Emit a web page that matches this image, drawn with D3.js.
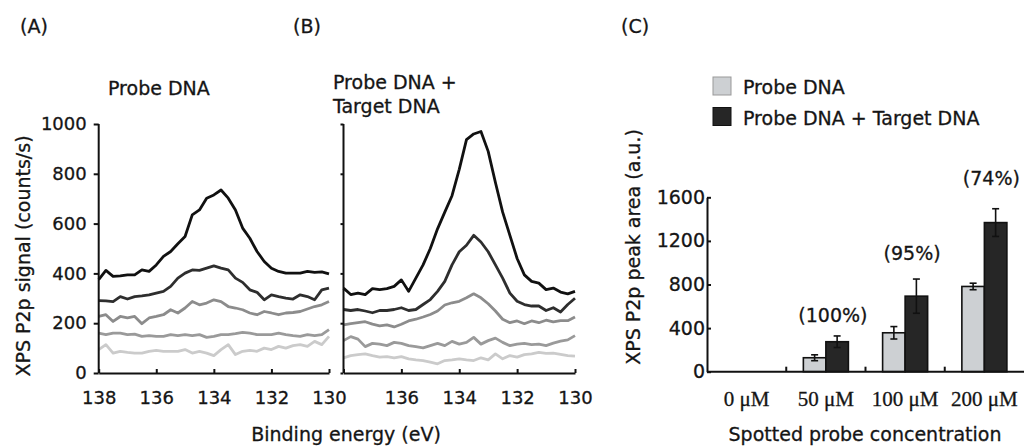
<!DOCTYPE html>
<html>
<head>
<meta charset="utf-8">
<script src="https://cdn.jsdelivr.net/npm/d3@7"></script>
<style>
  body { margin: 0; background: #fff; }
  svg { display: block; font-family: "DejaVu Sans", Verdana, sans-serif; }
  svg text { fill: #151515; stroke: #151515; stroke-width: 0.3px; }
  .axis path, .axis line { stroke: #111; }
</style>
</head>
<body>
<div id="chart"></div>
<script>
// Binding energies (eV), read every 0.25 eV
const energy = [138, 137.75, 137.5, 137.25, 137, 136.75, 136.5, 136.25, 136, 135.75, 135.5,
  135.25, 135, 134.75, 134.5, 134.25, 134, 133.75, 133.5, 133.25, 133, 132.75, 132.5,
  132.25, 132, 131.75, 131.5, 131.25, 131, 130.75, 130.5, 130.25, 130];

// Panel A : probe DNA only (top curve first)
const probeA1 = [375, 412, 388, 390, 394, 394, 414, 408, 434, 468, 488, 519, 548, 635, 655, 702, 715,
  735, 702, 655, 582, 541, 488, 448, 421, 408, 401, 401, 401, 408, 404, 406, 398];
const probeA2 = [291, 290, 287, 307, 297, 307, 310, 314, 321, 328, 348, 381, 401, 414, 412, 421, 430,
  421, 414, 381, 364, 334, 324, 294, 314, 307, 301, 297, 314, 307, 294, 334, 341];
const probeA3 = [227, 234, 207, 227, 221, 227, 198, 221, 227, 234, 254, 241, 261, 287, 274, 281, 294,
  287, 267, 261, 254, 241, 234, 247, 241, 234, 241, 243, 247, 257, 267, 274, 287];
const probeA4 = [160, 154, 160, 160, 154, 156, 147, 150, 147, 147, 154, 150, 154, 150, 154, 143, 147,
  154, 154, 158, 163, 160, 154, 154, 154, 160, 154, 150, 147, 154, 150, 154, 174];
const probeA5 = [94, 114, 80, 87, 83, 80, 80, 87, 91, 87, 87, 87, 94, 80, 87, 80, 70,
  94, 114, 74, 87, 91, 87, 100, 94, 107, 100, 110, 114, 107, 127, 114, 147];

// Panel B : probe DNA + target DNA
const hybridB1 = [341, 315, 321, 315, 339, 335, 339, 348, 374, 328, 381, 434, 500, 579, 646, 712, 818,
  937, 960, 970, 890, 765, 646, 553, 460, 394, 368, 361, 335, 341, 325, 318, 328];
const hybridB2 = [255, 251, 255, 249, 242, 251, 251, 255, 262, 251, 255, 275, 295, 328, 368, 434, 487,
  513, 553, 526, 487, 434, 381, 321, 288, 275, 269, 269, 251, 262, 245, 275, 300];
const hybridB3 = [193, 198, 202, 206, 196, 189, 193, 185, 196, 209, 216, 225, 235, 249, 273, 282, 288,
  302, 318, 302, 278, 249, 216, 202, 209, 198, 209, 202, 212, 205, 210, 210, 225];
const hybridB4 = [130, 146, 136, 106, 119, 116, 110, 123, 119, 110, 106, 101, 110, 119, 110, 127, 116,
  123, 143, 116, 130, 140, 123, 110, 116, 119, 114, 116, 110, 120, 128, 133, 150];
const hybridB5 = [61, 70, 74, 77, 70, 64, 66, 61, 66, 57, 53, 50, 44, 37, 50, 53, 57,
  53, 50, 61, 53, 77, 57, 70, 64, 74, 77, 83, 79, 80, 75, 70, 68];

const energyTicks = [138, 136, 134, 132, 130];
const signalTicks = [0, 200, 400, 600, 800, 1000];

// Panel C : peak areas
const concentrations = ["0 \u03bcM", "50 \u03bcM", "100 \u03bcM", "200 \u03bcM"];
const probeArea = [0, 128, 357, 782];
const probeErr = [0, 27, 57, 30];
const hybridArea = [0, 275, 693, 1368];
const hybridErr = [0, 53, 157, 127];
const ratioLabels = ["", "(100%)", "(95%)", "(74%)"];
const ratioLevel = [0, 460, 1025, 1710];
const areaTicks = [0, 400, 800, 1200, 1600];

const lineColors = ["#111", "#2e2e2e", "#8c8c8c", "#9a9a9a", "#cbcbcb"];
const barColors = { probe: "#cdd0d3", hybrid: "#262626" };

const svg = d3.select("#chart").append("svg")
  .attr("width", 1026).attr("height", 446);

// ---------- spectra panels ----------
const y = d3.scaleLinear().domain([0, 1000]).range([373, 124]);

function spectrumPanel(x0, x1, curves, showYLabels, showFirstX) {
  const x = d3.scaleLinear().domain([138, 130]).range([x0, x1]);
  const g = svg.append("g");
  const line = d3.line().x((d, i) => x(energy[i])).y(d => y(d));

  // lowest curves drawn first
  curves.slice().reverse().forEach((c, k) => {
    g.append("path")
      .attr("d", line(c))
      .attr("fill", "none")
      .attr("stroke", lineColors[curves.length - 1 - k])
      .attr("stroke-width", 2.8)
      .attr("stroke-linejoin", "round");
  });

  const xa = g.append("g").attr("class", "axis")
    .attr("transform", `translate(0,${y(0)})`)
    .call(d3.axisBottom(x).tickValues(energyTicks).tickSizeInner(-4).tickSizeOuter(0)
      .tickPadding(18).tickFormat(d => (!showFirstX && d === 138) ? "" : d));
  xa.selectAll("path, line").attr("stroke-width", 2);
  xa.selectAll("text").style("font-size", "18px").style("font-family", "DejaVu Sans");

  const ya = g.append("g").attr("class", "axis")
    .attr("transform", `translate(${x0},0)`)
    .call(d3.axisLeft(y).tickValues(signalTicks).tickSizeInner(showYLabels ? 5 : 3).tickSizeOuter(0)
      .tickPadding(7).tickFormat(d => showYLabels ? d : ""));
  ya.selectAll("path, line").attr("stroke-width", 2);
  ya.selectAll("text").style("font-size", "18px").style("font-family", "DejaVu Sans");
  ya.select(".domain").attr("d", `M0,${y(1000)}V${y(0)}`);
}

spectrumPanel(98.7, 329, [probeA1, probeA2, probeA3, probeA4, probeA5], true, true);
spectrumPanel(343.5, 575, [hybridB1, hybridB2, hybridB3, hybridB4, hybridB5], false, false);

const txt = (x, yy, s, size, anchor) => svg.append("text")
  .attr("x", x).attr("y", yy).text(s)
  .style("font-size", size + "px")
  .attr("text-anchor", anchor || "start");

txt(20, 33, "(A)", 19);
txt(293, 33, "(B)", 19);
txt(621, 33, "(C)", 19);
txt(108, 95, "Probe DNA", 19);
txt(333, 89, "Probe DNA +", 19);
txt(333, 113, "Target DNA", 19);
txt(346, 441, "Binding energy (eV)", 19, "middle");

svg.append("text")
  .attr("transform", "translate(30,256) rotate(-90)")
  .attr("text-anchor", "middle")
  .style("font-size", "19px")
  .text("XPS P2p signal (counts/s)");

// ---------- bar panel ----------
const yc = d3.scaleLinear().domain([0, 1600]).range([371.7, 197.3]);
const xc = d3.scaleBand().domain(concentrations).range([707, 1024]);
const xs = d3.scaleBand().domain(["probe", "hybrid"]).range([0, xc.bandwidth()])
  .paddingInner(0).paddingOuter(0.76);

const rows = concentrations.map((c, i) => ({
  c, i,
  bars: [
    { key: "probe", v: probeArea[i], e: probeErr[i] },
    { key: "hybrid", v: hybridArea[i], e: hybridErr[i] }
  ]
}));

const groups = svg.append("g").selectAll("g")
  .data(rows).join("g")
  .attr("transform", d => `translate(${xc(d.c)},0)`);

groups.selectAll("rect")
  .data(d => d.bars.filter(b => b.v > 0)).join("rect")
  .attr("x", b => xs(b.key))
  .attr("width", xs.bandwidth())
  .attr("y", b => yc(b.v))
  .attr("height", b => yc(0) - yc(b.v))
  .attr("fill", b => barColors[b.key])
  .attr("stroke", "#111").attr("stroke-width", 1.6);

const errs = groups.selectAll("g.err")
  .data(d => d.bars.filter(b => b.v > 0)).join("g").attr("class", "err")
  .attr("stroke", "#111").attr("stroke-width", 1.6);
errs.append("line")
  .attr("x1", b => xs(b.key) + xs.bandwidth() / 2).attr("x2", b => xs(b.key) + xs.bandwidth() / 2)
  .attr("y1", b => yc(b.v - b.e)).attr("y2", b => yc(b.v + b.e));
[1, -1].forEach(s => {
  errs.append("line")
    .attr("x1", b => xs(b.key) + xs.bandwidth() / 2 - 3.5).attr("x2", b => xs(b.key) + xs.bandwidth() / 2 + 3.5)
    .attr("y1", b => yc(b.v + s * b.e)).attr("y2", b => yc(b.v + s * b.e));
});

groups.append("text")
  .attr("x", xc.bandwidth() / 2 + 7)
  .attr("y", d => yc(ratioLevel[d.i]))
  .attr("text-anchor", "middle")
  .style("font-size", "19px")
  .text(d => ratioLabels[d.i]);

const xca = svg.append("g").attr("class", "axis")
  .attr("transform", `translate(0,${yc(0)})`)
  .call(d3.axisBottom(xc).tickSize(0).tickPadding(19));
xca.select(".domain").attr("d", `M707,0H1024`).attr("stroke-width", 2);
xca.selectAll("text")
  .style("font-family", "'Liberation Serif', 'Times New Roman', serif")
  .style("font-size", "21px");
// boundary ticks between categories
xca.selectAll("line.sep")
  .data(concentrations.slice(1)).join("line").attr("class", "sep")
  .attr("x1", d => xc(d)).attr("x2", d => xc(d))
  .attr("y1", 0).attr("y2", -5)
  .attr("stroke", "#111").attr("stroke-width", 2);

const yca = svg.append("g").attr("class", "axis")
  .attr("transform", "translate(707,0)")
  .call(d3.axisLeft(yc).tickValues(areaTicks).tickFormat(d3.format("d"))
    .tickSizeInner(-4).tickSizeOuter(0).tickPadding(2));
yca.selectAll("path, line").attr("stroke-width", 2);
yca.selectAll("text").style("font-size", "19px").style("font-family", "DejaVu Sans");

svg.append("text")
  .attr("transform", "translate(640,247) rotate(-90)")
  .attr("text-anchor", "middle")
  .style("font-size", "19px")
  .text("XPS P2p peak area (a.u.)");

txt(865, 441, "Spotted probe concentration", 19, "middle");

// legend
const legend = svg.append("g").attr("transform", "translate(713,77)");
[["probe", "Probe DNA"], ["hybrid", "Probe DNA + Target DNA"]].forEach(([k, label], i) => {
  legend.append("rect")
    .attr("x", 0).attr("y", i * 30.5).attr("width", 18).attr("height", 18)
    .attr("fill", barColors[k]).attr("stroke", k === "probe" ? "#999" : "#111").attr("stroke-width", 1);
  legend.append("text")
    .attr("x", 30).attr("y", i * 30.5 + 17)
    .style("font-size", "19px")
    .text(label);
});
</script>
</body>
</html>
